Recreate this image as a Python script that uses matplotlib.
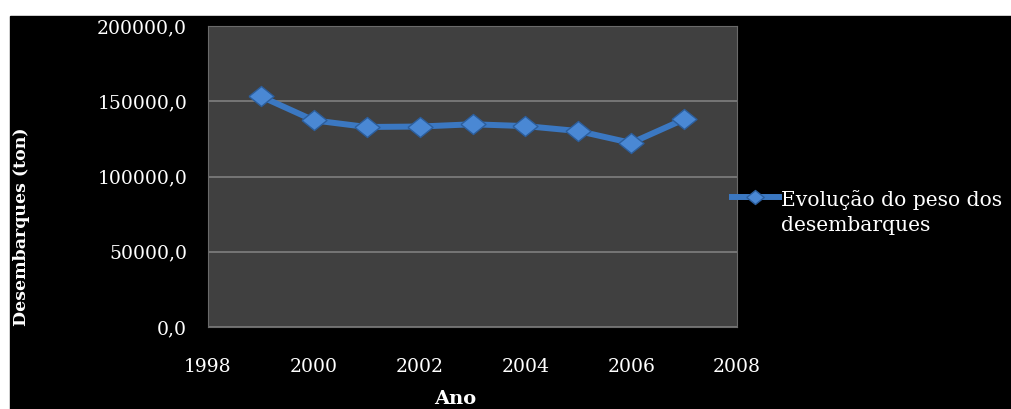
import numpy as np
import matplotlib.pyplot as plt
from matplotlib.patches import Rectangle
from matplotlib.ticker import FuncFormatter

plt.rcParams["font.family"] = "DejaVu Serif"

# Data
anos = [1999, 2000, 2001, 2002, 2003, 2004, 2005, 2006, 2007]
peso = [153200, 137300, 132900, 133200, 134700, 133500, 130200, 122300, 138000]
y_ticks = [0, 50000, 100000, 150000, 200000]
x_ticks = [1998, 2000, 2002, 2004, 2006, 2008]
serie = "Evolução do peso dos\ndesembarques"

fig = plt.figure(figsize=(10.11, 4.09), dpi=100, facecolor="white")
# black slide background (white strip on top and left)
fig.patches.append(Rectangle((10 / 1011, 0), 1, 1 - 16 / 409,
                             transform=fig.transFigure, color="black", zorder=-10))

ax = fig.add_axes([208 / 1011, 1 - 327 / 409, (737 - 208) / 1011, (327 - 26) / 409])
ax.set_facecolor("#404040")

# diamond a bit wider than tall
diamante = [(-1, 0), (0, 0.8), (1, 0), (0, -0.8), (-1, 0)]
ax.plot(anos, peso, color="#3b78c2", lw=4.3, marker=diamante, ms=18,
        mfc="#4a88d4", mec="#2c5e9c", mew=1, label=serie, zorder=3)

ax.set_xlim(1998, 2008)
ax.set_ylim(0, 200000)
ax.set_xticks(x_ticks)
ax.set_yticks(y_ticks)
ax.yaxis.set_major_formatter(FuncFormatter(lambda v, p: f"{v:.1f}".replace(".", ",")))
ax.grid(axis="y", color="#858585", lw=1.1)
ax.set_axisbelow(True)
for s in ax.spines.values():
    s.set_color("#6a6a6a")
ax.tick_params(length=0, colors="white", labelsize=13.5)
ax.tick_params(axis="y", pad=15)
ax.tick_params(axis="x", pad=22)

fig.text(22 / 1011, 1 - 227 / 409, "Desembarques (ton)", rotation=90,
         ha="center", va="center", color="white", fontsize=12.5, fontweight="bold")
fig.text(455 / 1011, 1 / 409, "Ano", ha="center", va="bottom",
         color="white", fontsize=14, fontweight="bold")

leg = ax.legend(loc="upper left", bbox_to_anchor=(724 / 1011, 1 - 182 / 409),
                bbox_transform=fig.transFigure, frameon=False, fontsize=14.6,
                handlelength=2.3, handletextpad=0.1, borderaxespad=0,
                markerscale=0.7)
for t in leg.get_texts():
    t.set_color("white")
    t.set_linespacing(1.4)
# put the handle next to the first line of the label
for col in leg._legend_handle_box.get_children():
    for row in col.get_children():
        row.align = "top"

fig.savefig("out.png", dpi=100, facecolor=fig.get_facecolor())
